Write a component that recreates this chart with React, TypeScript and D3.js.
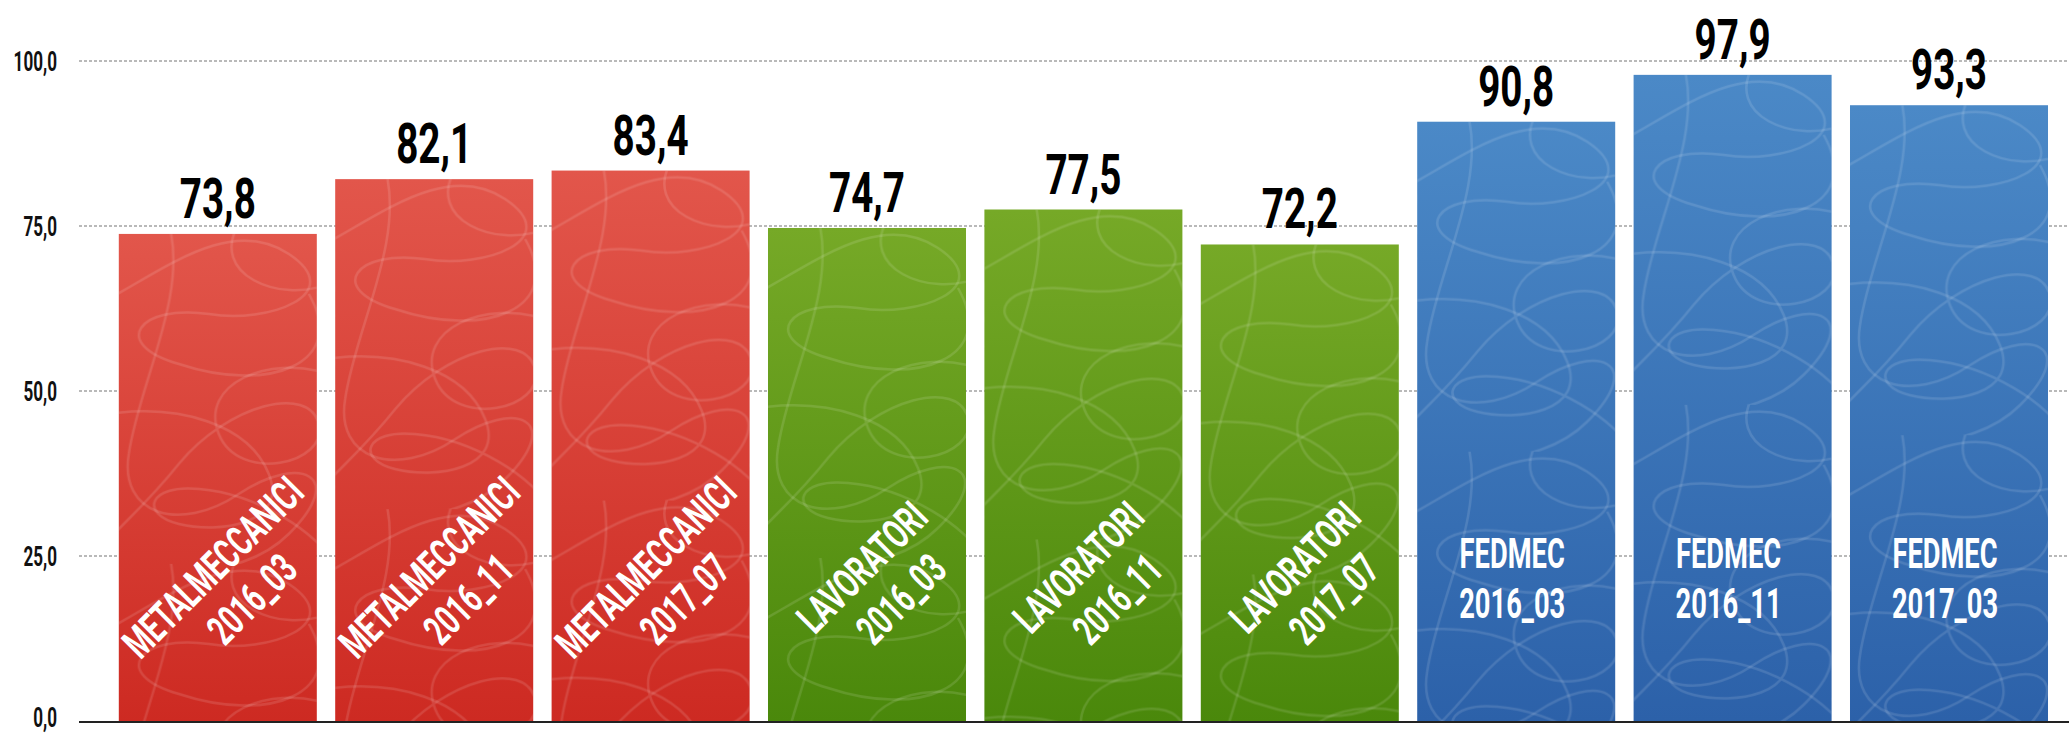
import React, { useEffect, useRef } from "react";
import * as d3 from "d3";

// chart data
const groups = ["METALMECCANICI", "METALMECCANICI", "METALMECCANICI", "LAVORATORI", "LAVORATORI", "LAVORATORI", "FEDMEC", "FEDMEC", "FEDMEC"];
const periods = ["2016_03", "2016_11", "2017_07", "2016_03", "2016_11", "2017_07", "2016_03", "2016_11", "2017_03"];
const values = [73.8, 82.1, 83.4, 74.7, 77.5, 72.2, 90.8, 97.9, 93.3];
const yTicks = [0, 25, 50, 75, 100];

const W = 2069;
const H = 733;
const FONT = "Roboto, 'DejaVu Sans Condensed', sans-serif";

// gradient colours per group (top, bottom)
const groupColors: Record<string, [string, string]> = {
  METALMECCANICI: ["#e2564b", "#cd2a22"],
  LAVORATORI: ["#76a927", "#4a880b"],
  FEDMEC: ["#4b89c7", "#2c61a9"],
};

// decorative scribble for the bar texture
const scribbles = [
  "M -20 70 C 40 40, 110 -20, 170 20 C 230 60, 150 90, 90 80 C 20 70, -10 110, 60 130 C 150 160, 230 130, 190 60",
  "M 50 -10 C 70 60, 20 150, 10 220 C 0 280, 60 300, 120 260 C 180 220, 230 240, 170 300 C 120 350, 40 330, 30 360",
  "M 210 140 C 150 120, 80 150, 100 200 C 120 250, 210 230, 200 190 C 190 150, 110 170, 60 230 C 20 280, -10 300, -20 320",
  "M 120 -10 C 90 40, 160 70, 210 50 M -10 180 C 60 170, 130 190, 150 240 C 170 290, 100 300, 60 290 C 20 280, 30 250, 80 255 C 140 260, 200 300, 215 330",
];

const drawChart = (el: SVGSVGElement) => {
  const svg = d3.select(el);
  svg.selectAll("*").remove();

  const x0 = 79;
  const x = d3
    .scaleBand<number>()
    .domain(d3.range(values.length))
    .range([109.6, 2057.2])
    .paddingInner(0.085)
    .paddingOuter(0.0425);
  const y = d3.scaleLinear().domain([0, 100]).range([721, 61]);

  const fmt = (v: number) => d3.format(".1f")(v).replace(".", ",");

  const defs = svg.append("defs");
  Object.entries(groupColors).forEach(([k, c]) => {
    const g = defs
      .append("linearGradient")
      .attr("id", "grad-" + k)
      .attr("x1", 0)
      .attr("y1", 0)
      .attr("x2", 0)
      .attr("y2", 1);
    g.append("stop").attr("offset", "0%").attr("stop-color", c[0]);
    g.append("stop").attr("offset", "100%").attr("stop-color", c[1]);
  });

  const pat = defs
    .append("pattern")
    .attr("id", "scribble")
    .attr("patternUnits", "userSpaceOnUse")
    .attr("width", x.bandwidth())
    .attr("height", 330);
  scribbles.forEach((d) => {
    pat
      .append("path")
      .attr("d", d)
      .attr("fill", "none")
      .attr("stroke", "#ffffff")
      .attr("stroke-opacity", 0.12)
      .attr("stroke-width", 2.5);
  });

  // grid
  const grid = svg.append("g");
  grid
    .selectAll("line")
    .data(yTicks.filter((t) => t > 0))
    .enter()
    .append("line")
    .attr("x1", x0)
    .attr("x2", W)
    .attr("y1", (d) => y(d))
    .attr("y2", (d) => y(d))
    .attr("stroke", "#a3a3a3")
    .attr("stroke-width", 1.5)
    .attr("stroke-dasharray", "3,2");

  // y labels (bottom one nudged up so it stays inside the frame)
  grid
    .selectAll("text")
    .data(yTicks)
    .enter()
    .append("text")
    .attr("transform", (d) => "translate(57," + (y(d) + (d === 0 ? 6 : 10)) + ") scale(0.61,1)")
    .attr("text-anchor", "end")
    .attr("font-family", FONT)
    .attr("font-weight", "bold")
    .attr("font-size", 28)
    .attr("fill", "#111")
    .text((d) => fmt(d));

  // bars
  const bar = svg
    .selectAll("g.bar")
    .data(values)
    .enter()
    .append("g")
    .attr("class", "bar")
    .attr("transform", (d, i) => "translate(" + x(i) + "," + y(d) + ")");

  bar
    .append("rect")
    .attr("width", x.bandwidth())
    .attr("height", (d) => y(0) - y(d))
    .attr("fill", (d, i) => "url(#grad-" + groups[i] + ")");
  bar
    .append("rect")
    .attr("width", x.bandwidth())
    .attr("height", (d) => y(0) - y(d))
    .attr("fill", "url(#scribble)");

  // axis baseline
  svg
    .append("line")
    .attr("x1", x0)
    .attr("x2", W)
    .attr("y1", y(0) + 1)
    .attr("y2", y(0) + 1)
    .attr("stroke", "#222")
    .attr("stroke-width", 2);

  // value labels
  svg
    .selectAll("text.val")
    .data(values)
    .enter()
    .append("text")
    .attr("class", "val")
    .attr("transform", (d, i) => "translate(" + (x(i)! + x.bandwidth() / 2) + "," + (y(d) - 16) + ") scale(0.69,1)")
    .attr("text-anchor", "middle")
    .attr("font-family", FONT)
    .attr("font-weight", "bold")
    .attr("font-size", 56)
    .attr("fill", "#000")
    .text((d) => fmt(d));

  // category labels inside bars
  values.forEach((v, i) => {
    const cx = x(i)! + x.bandwidth() / 2;
    const rotated = groups[i].length > 6;
    const g = svg
      .append("g")
      .attr("transform", rotated ? "translate(" + (cx - 5) + "," + (y(0) - 154) + ") rotate(-45)" : "translate(" + (cx - 4) + "," + (y(0) - 168) + ")");
    const lines = [groups[i], periods[i]];
    lines.forEach((t, k) => {
      g.append("text")
        .attr("transform", "translate(" + (rotated ? k * 5 : 0) + "," + (15 + k * 50) + ") scale(0.65,1)")
        .attr("text-anchor", "middle")
        .attr("font-family", FONT)
        .attr("font-weight", "bold")
        .attr("font-size", 42)
        .attr("fill", "#fff")
        .text(t);
    });
  });
};

const App = () => {
  const ref = useRef<SVGSVGElement>(null);
  useEffect(() => {
    if (ref.current) drawChart(ref.current);
  }, []);
  return (
    <svg
      ref={ref}
      width={W}
      height={H}
      style={{ position: "absolute", left: 0, top: 0, display: "block", background: "#fff" }}
    />
  );
};

export default App;
